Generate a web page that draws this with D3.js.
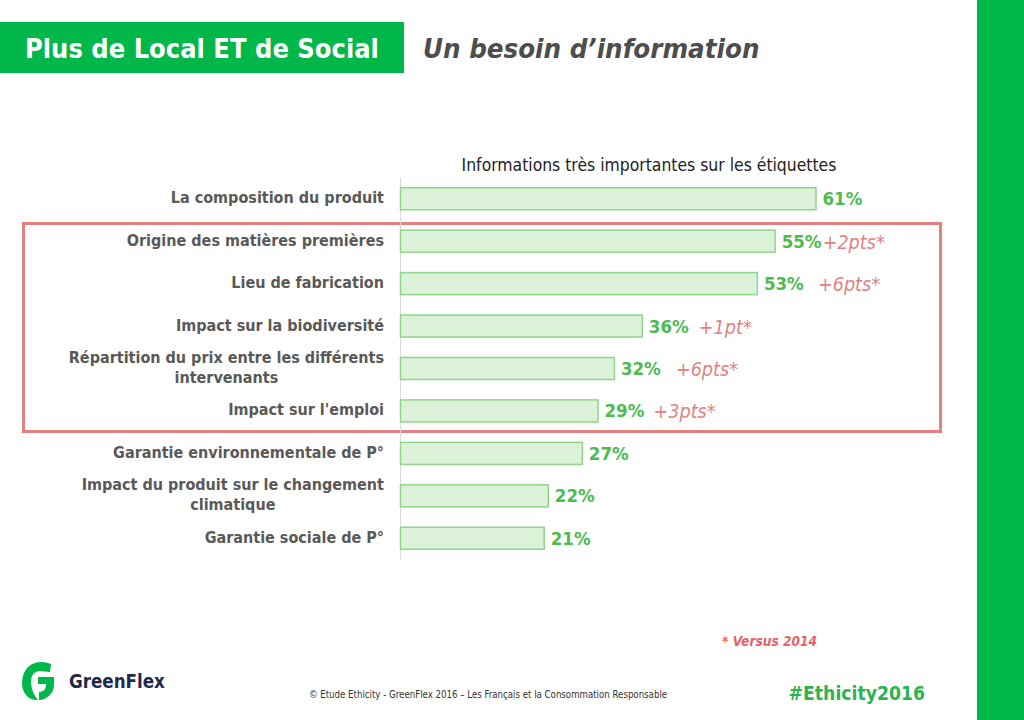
<!DOCTYPE html>
<html>
<head>
<meta charset="utf-8">
<script src="https://cdn.jsdelivr.net/npm/d3@7"></script>
<style>
  html, body { margin: 0; padding: 0; background: #fff; }
  svg { display: block; }
  text { font-family: "DejaVu Sans", sans-serif; font-stretch: condensed; }
</style>
</head>
<body>
<div id="chart"></div>
<script>
const categories = [
  'La composition du produit',
  'Origine des matières premières',
  'Lieu de fabrication',
  'Impact sur la biodiversité',
  'Répartition du prix entre les différents|intervenants',
  "Impact sur l'emploi",
  'Garantie environnementale de P°',
  'Impact du produit sur le changement|climatique',
  'Garantie sociale de P°'
];
// printed labels, and the unrounded lengths
const values = [61, 55, 53, 36, 32, 29, 27, 22, 21];
const barValues = [61, 55, 52.4, 35.5, 31.4, 29, 26.7, 21.7, 21.1];
const deltas = [null, '+2pts*', '+6pts*', '+1pt*', '+6pts*', '+3pts*', null, null, null];

const width = 1024;
const height = 720;
const green = '#00b74a';
const red = '#e57f80';

const svg = d3.select('#chart').append('svg')
  .attr('width', width)
  .attr('height', height);

// header
svg.append('rect').attr('x', 977).attr('y', 0).attr('width', 47).attr('height', height).attr('fill', green);
svg.append('rect').attr('x', 0).attr('y', 22).attr('width', 404).attr('height', 51).attr('fill', green);
svg.append('text').attr('x', 25).attr('y', 58)
  .attr('font-size', 27).attr('font-weight', 'bold').attr('fill', '#fff')
  .text('Plus de Local ET de Social');
svg.append('text').attr('x', 423).attr('y', 58)
  .attr('font-size', 27.4).attr('font-weight', 'bold').attr('font-style', 'italic').attr('fill', '#4d4d4d')
  .text('Un besoin d’information');

// scales
const xScale = d3.scaleLinear().domain([0, 61]).range([400, 815.5]);
const yScale = d3.scaleBand().domain(categories).range([177, 559]).paddingInner(0.48).paddingOuter(0.24);

svg.append('text').attr('x', 649).attr('y', 171)
  .attr('text-anchor', 'middle').attr('font-size', 17.4).attr('fill', '#222')
  .text('Informations très importantes sur les étiquettes');

// highlight box
svg.append('rect')
  .attr('x', 23.5).attr('y', 223.5).attr('width', 917).attr('height', 208)
  .attr('fill', 'none').attr('stroke', red).attr('stroke-width', 3);

// axis line
const yAxis = d3.axisLeft(yScale).tickSize(0).tickFormat('');
const axisG = svg.append('g').attr('transform', 'translate(400,0)').call(yAxis);
axisG.select('.domain').attr('stroke', '#d9d9d9');

// category labels, wrapped ones are centred on their longest line
const labels = svg.append('g').selectAll('text').data(categories).join('text')
  .attr('font-size', 16)
  .attr('font-weight', 'bold')
  .attr('fill', '#595959');
labels.each(function (d) {
  const lines = d.split('|');
  const cy = yScale(d) + yScale.bandwidth() / 2;
  const spans = d3.select(this).selectAll('tspan').data(lines).join('tspan')
    .attr('y', (l, i) => cy + 5 + (i - (lines.length - 1) / 2) * 20)
    .text(l => l);
  if (lines.length > 1) {
    const w = this.querySelector('tspan').getComputedTextLength();
    d3.select(this).attr('text-anchor', 'middle');
    spans.attr('x', 384 - w / 2);
  } else {
    d3.select(this).attr('text-anchor', 'end');
    spans.attr('x', 384);
  }
});

// bars
svg.append('g').selectAll('rect').data(barValues).join('rect')
  .attr('x', xScale(0) + 0.5)
  .attr('y', (d, i) => yScale(categories[i]) + 0.5)
  .attr('width', d => xScale(d) - xScale(0))
  .attr('height', yScale.bandwidth())
  .attr('fill', '#dbf1d8')
  .attr('stroke', '#8fd68b')
  .attr('stroke-width', 1.5);

// value labels
svg.append('g').selectAll('text').data(values).join('text')
  .attr('x', (d, i) => xScale(barValues[i]) + 7)
  .attr('y', (d, i) => yScale(categories[i]) + yScale.bandwidth() / 2 + 7)
  .attr('font-size', 18.5).attr('font-weight', 'bold').attr('fill', '#4dbb50')
  .text(d => d + '%');

// evolution labels, each one sits a bit differently after its bar
const deltaOffsets = [0, 48, 61, 57, 62, 56, 0, 0, 0];
svg.append('g').selectAll('text').data(deltas).join('text')
  .attr('x', (d, i) => xScale(barValues[i]) + deltaOffsets[i])
  .attr('y', (d, i) => yScale(categories[i]) + yScale.bandwidth() / 2 + 8)
  .attr('font-size', 19.6).attr('font-style', 'italic').attr('fill', red)
  .text(d => d);

// footer
svg.append('text').attr('x', 722).attr('y', 646)
  .attr('font-size', 13.6).attr('font-weight', 'bold').attr('font-style', 'italic').attr('fill', '#e8616a')
  .text('* Versus 2014');
svg.append('text').attr('x', 488).attr('y', 698)
  .attr('text-anchor', 'middle').attr('font-size', 9.6).attr('fill', '#333')
  .text('© Etude Ethicity - GreenFlex 2016 – Les Français et la Consommation Responsable');
svg.append('text').attr('x', 925).attr('y', 700)
  .attr('text-anchor', 'end').attr('font-size', 19.2).attr('font-weight', 'bold').attr('fill', '#2eb34f')
  .text('#Ethicity2016');

// logo
svg.append('path')
  .attr('fill', green)
  .attr('d', 'M51 664 C44 661 34 661 28 667 C21 674 20 688 26 695 C29 699 33 700 38 700 C33 694 31 687 31 681 C31 675 35 671 40 671 L50 672 Z M38 677 L54 677 L54 685 C54 693 47 700 39 700 L39 692 C43 692 46 690 46 684 L38 684 Z');
svg.append('text').attr('x', 69).attr('y', 688)
  .attr('font-size', 18.6).attr('font-weight', 'bold').attr('fill', '#1f2a4d')
  .text('GreenFlex');
</script>
</body>
</html>
